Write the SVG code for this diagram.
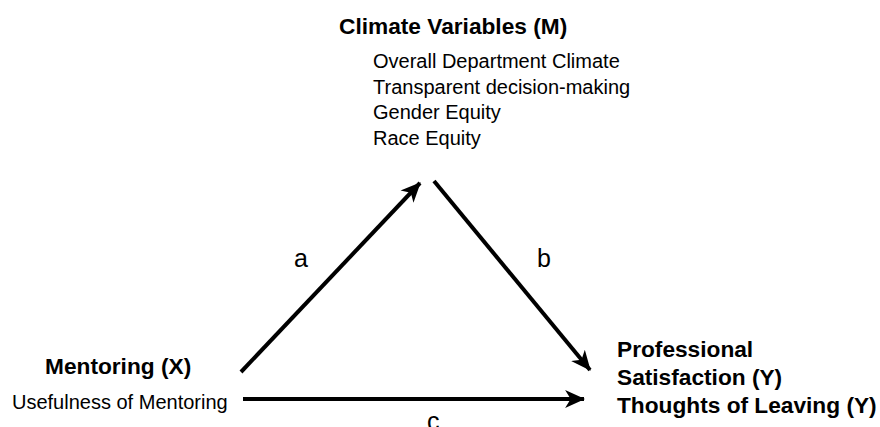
<svg xmlns="http://www.w3.org/2000/svg" width="880" height="427" viewBox="0 0 880 427">
<style>
.b{font-family:"Liberation Sans",Arial,sans-serif;font-weight:bold;font-size:22.7px;fill:#000}
.r{font-family:"Liberation Sans",Arial,sans-serif;font-size:20px;fill:#000}
.l{font-family:"Liberation Sans",Arial,sans-serif;font-size:25px;fill:#000}
.c{stroke:#000;stroke-width:4;fill:none}
</style>
<defs>
<marker id="ah" markerUnits="userSpaceOnUse" markerWidth="20" markerHeight="20" refX="17" refY="8" orient="auto" viewBox="0 0 18 16">
<path d="M0,0 L18,8 L0,16 L5,8 z" fill="#000"/>
</marker>
</defs>
<rect width="880" height="427" fill="#fff"/>
<g id="connectors">
<line class="c" x1="241" y1="372" x2="420" y2="183" marker-end="url(#ah)"/>
<line class="c" x1="434" y1="181" x2="590" y2="370" marker-end="url(#ah)"/>
<line class="c" x1="243" y1="399" x2="584" y2="399" marker-end="url(#ah)"/>
<text class="l" x="294" y="267">a</text>
<text class="l" x="537" y="267">b</text>
<text class="l" x="427" y="430">c</text>
</g>
<g id="node-m">
<text class="b" x="339" y="34">Climate Variables (M)</text>
<text class="r" x="373" y="68">Overall Department Climate</text>
<text class="r" x="373" y="93.5">Transparent decision-making</text>
<text class="r" x="373" y="119">Gender Equity</text>
<text class="r" x="373" y="144.5">Race Equity</text>
</g>
<g id="node-x">
<text class="b" x="45" y="374">Mentoring (X)</text>
<text class="r" x="12" y="409">Usefulness of Mentoring</text>
</g>
<g id="node-y">
<text class="b" x="617" y="357">Professional</text>
<text class="b" x="617" y="385">Satisfaction (Y)</text>
<text class="b" x="617" y="413">Thoughts of Leaving (Y)</text>
</g>
</svg>
